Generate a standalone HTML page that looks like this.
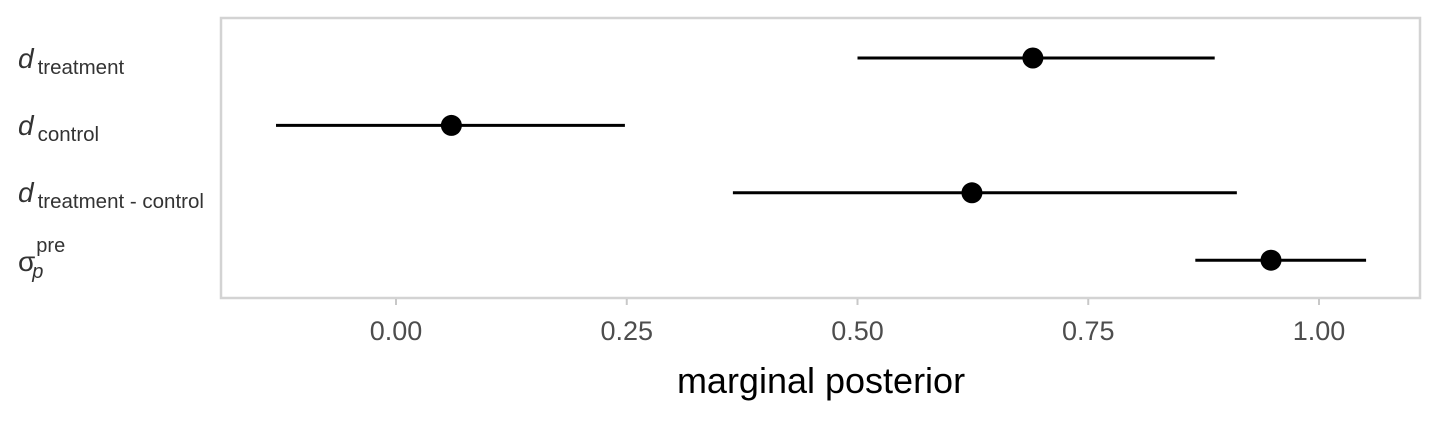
<!DOCTYPE html>
<html><head><meta charset="utf-8"><style>
body{margin:0;background:#fff;width:1440px;height:420px;overflow:hidden}
svg text{font-family:"Liberation Sans",Arial,sans-serif}
</style></head><body>
<svg id="chart" width="1440" height="420">
<rect x="221" y="18" width="1199" height="280" fill="none" stroke="#d3d3d3" stroke-width="2.5"/>
<g id="ylabels">
<text x="18" y="68" font-size="28" font-style="italic" fill="#333">d<tspan font-size="20.5" font-style="normal" dx="4" dy="6">treatment</tspan></text>
<text x="18" y="135" font-size="28" font-style="italic" fill="#333">d<tspan font-size="20.5" font-style="normal" dx="4" dy="6">control</tspan></text>
<text x="18" y="202" font-size="28" font-style="italic" fill="#333">d<tspan font-size="20.5" font-style="normal" dx="4" dy="6">treatment - control</tspan></text>
<text x="18" y="271" font-size="28" fill="#333">σ<tspan font-size="20" dy="-19" dx="1">pre</tspan><tspan font-size="20" font-style="italic" dx="-33" dy="26">p</tspan></text>
</g>
<g id="marks"></g>
<g id="xaxis"></g>
<text x="821" y="393" font-size="36" text-anchor="middle" fill="#000">marginal posterior</text>
</svg>
<script>
const categories = ["d_treatment","d_control","d_diff","sigma_pre"];
const estimates = [0.690, 0.060, 0.624, 0.948];
const lower = [0.500, -0.130, 0.365, 0.866];
const upper = [0.887, 0.248, 0.911, 1.051];
const ticks = [0, 0.25, 0.5, 0.75, 1.0];
const tickLabels = ["0.00","0.25","0.50","0.75","1.00"];

const ns="http://www.w3.org/2000/svg";
const x = v => 396 + v*923;
const y = i => 58 + i*67.4;
const marks=document.getElementById('marks');
categories.forEach((c,i)=>{
  const l=document.createElementNS(ns,'line');
  l.setAttribute('x1',x(lower[i]));l.setAttribute('x2',x(upper[i]));
  l.setAttribute('y1',y(i));l.setAttribute('y2',y(i));
  l.setAttribute('stroke','#000');l.setAttribute('stroke-width','3');
  
  
  marks.appendChild(l);
  const p=document.createElementNS(ns,'circle');
  p.setAttribute('cx',x(estimates[i]));p.setAttribute('cy',y(i));p.setAttribute('r','10.5');
  p.setAttribute('fill','#000');
  
  
  marks.appendChild(p);
});
const xa=document.getElementById('xaxis');
ticks.forEach((t,i)=>{
  const tk=document.createElementNS(ns,'line');
  tk.setAttribute('x1',x(t));tk.setAttribute('x2',x(t));
  tk.setAttribute('y1',299);tk.setAttribute('y2',305);
  tk.setAttribute('stroke','#c8c8c8');tk.setAttribute('stroke-width','2');
  
  
  xa.appendChild(tk);
  const tx=document.createElementNS(ns,'text');
  tx.setAttribute('x',x(t));tx.setAttribute('y',340);
  tx.setAttribute('text-anchor','middle');tx.setAttribute('font-size','27');
  tx.setAttribute('fill','#4d4d4d');
  tx.textContent=tickLabels[i];
  
  
  xa.appendChild(tx);
});
</script>
</body></html>
